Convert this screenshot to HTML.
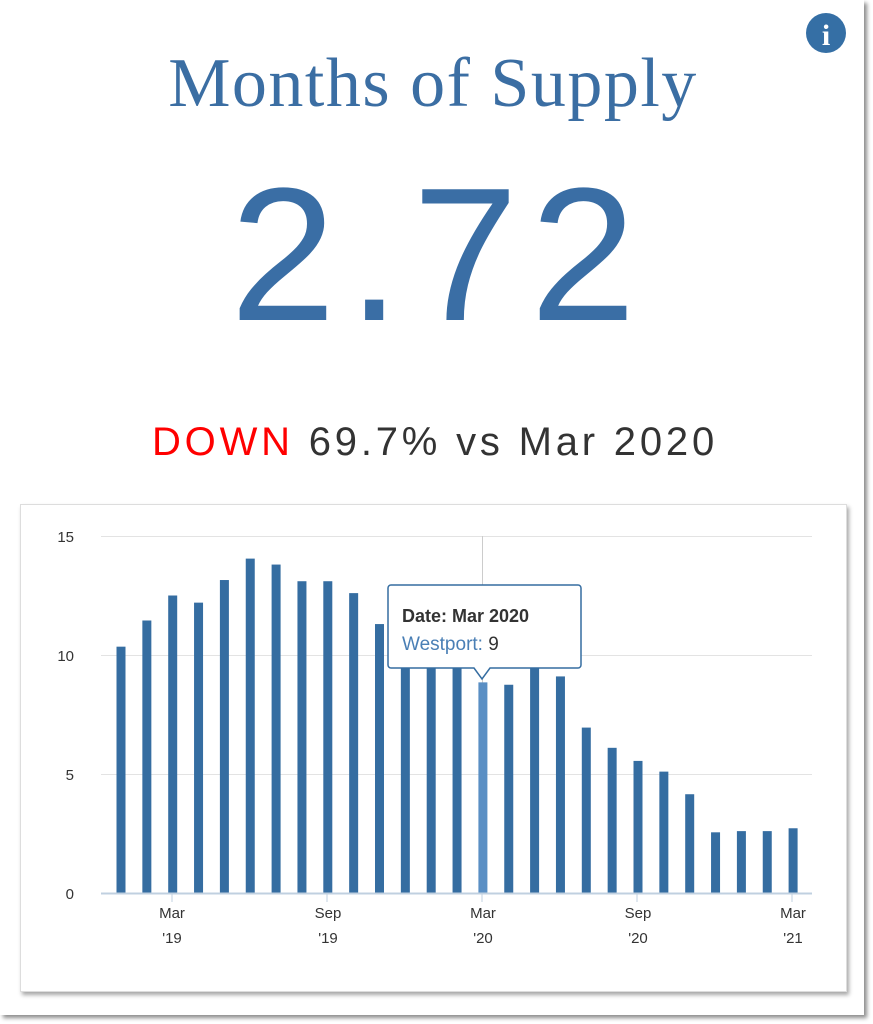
<!DOCTYPE html>
<html><head><meta charset="utf-8"><style>
html,body{margin:0;padding:0;background:#fff;width:873px;height:1024px;overflow:hidden;font-family:"Liberation Sans",sans-serif}
.card{position:absolute;left:0;top:0;width:864px;height:1015px;background:#fff;box-shadow:3px 3px 4px rgba(0,0,0,.45)}
.title{position:absolute;left:0;width:866px;top:44px;text-align:center;font-family:"Liberation Serif",serif;font-size:70px;letter-spacing:1.5px;color:#3b6ea3}
.big{position:absolute;left:6px;width:866px;top:140px;text-align:center;font-size:190px;letter-spacing:12px;color:#3a6ea5;line-height:230px}
.down{position:absolute;left:2px;width:866px;top:420px;text-align:center;font-size:40px;letter-spacing:3.8px;color:#333}
.down span{color:#f00}
.box{position:absolute;left:20px;top:504px;width:825px;height:486px;background:#fff;border:1px solid #ddd;box-shadow:2px 3px 4px rgba(0,0,0,.35)}
</style></head><body>
<div class="card"></div>
<div class="title">Months of Supply</div>
<div class="big">2.72</div>
<div class="down"><span>DOWN</span> 69.7% vs Mar 2020</div>
<svg style="position:absolute;left:805px;top:12px" width="42" height="42"><circle cx="21" cy="21" r="20" fill="#356fa5"/><text x="21" y="33" text-anchor="middle" font-family="Liberation Serif" font-weight="bold" font-size="30" fill="#fff">i</text></svg>
<div class="box"></div>
<svg style="position:absolute;left:0;top:0" width="873" height="1024" font-family="Liberation Sans">
<g stroke="#e3e3e3" stroke-width="1">
<line x1="101" x2="812" y1="536.5" y2="536.5"/><line x1="101" x2="812" y1="655.5" y2="655.5"/><line x1="101" x2="812" y1="774.5" y2="774.5"/>
</g>
<line x1="482.5" x2="482.5" y1="536" y2="893" stroke="#ccc"/>
<g fill="#356da1" id="bars"></g>
<line x1="101" x2="812" y1="893.5" y2="893.5" stroke="#c0d0e0" stroke-width="2"/>
<g stroke="#c0d0e0"><line x1="172" x2="172" y1="893" y2="902"/><line x1="327" x2="327" y1="893" y2="902"/><line x1="482" x2="482" y1="893" y2="902"/><line x1="637" x2="637" y1="893" y2="902"/><line x1="792" x2="792" y1="893" y2="902"/></g>
<g font-size="15" fill="#333" text-anchor="end"><text x="74" y="542">15</text><text x="74" y="661">10</text><text x="74" y="780">5</text><text x="74" y="899">0</text></g>
<g font-size="15" fill="#333" text-anchor="middle">
<text x="172" y="918">Mar</text><text x="172" y="943">'19</text>
<text x="328" y="918">Sep</text><text x="328" y="943">'19</text>
<text x="483" y="918">Mar</text><text x="483" y="943">'20</text>
<text x="638" y="918">Sep</text><text x="638" y="943">'20</text>
<text x="793" y="918">Mar</text><text x="793" y="943">'21</text>
</g>
<g id="tt">
<path d="M391 585 h187 a3 3 0 0 1 3 3 v77 a3 3 0 0 1 -3 3 h-88 l-8 11 l-8 -11 h-83 a3 3 0 0 1 -3 -3 v-77 a3 3 0 0 1 3 -3z" fill="#fff" stroke="#356da1" stroke-width="1.5"/>
<text x="402" y="622" font-size="18" font-weight="bold" fill="#333">Date: Mar 2020</text>
<text x="402" y="650" font-size="19" fill="#4a7fb5">Westport: <tspan fill="#333">9</tspan></text>
</g>
</svg>
<script>
var v=[10.35,11.45,12.5,12.2,13.15,14.05,13.8,13.1,13.1,12.6,11.3,9.8,9.7,9.6,8.85,8.75,9.5,9.1,6.95,6.1,5.55,5.1,4.15,2.55,2.6,2.6,2.72];
var g=document.getElementById('bars'),s='';
for(var i=0;i<v.length;i++){var x=121+i*25.85,h=v[i]*23.8;
s+='<rect x="'+(x-4.5)+'" y="'+(893-h)+'" width="9" height="'+h+'"'+(i==14?' fill="#5a8fc4"':'')+'/>';}
g.innerHTML=s;
</script>
</body></html>
